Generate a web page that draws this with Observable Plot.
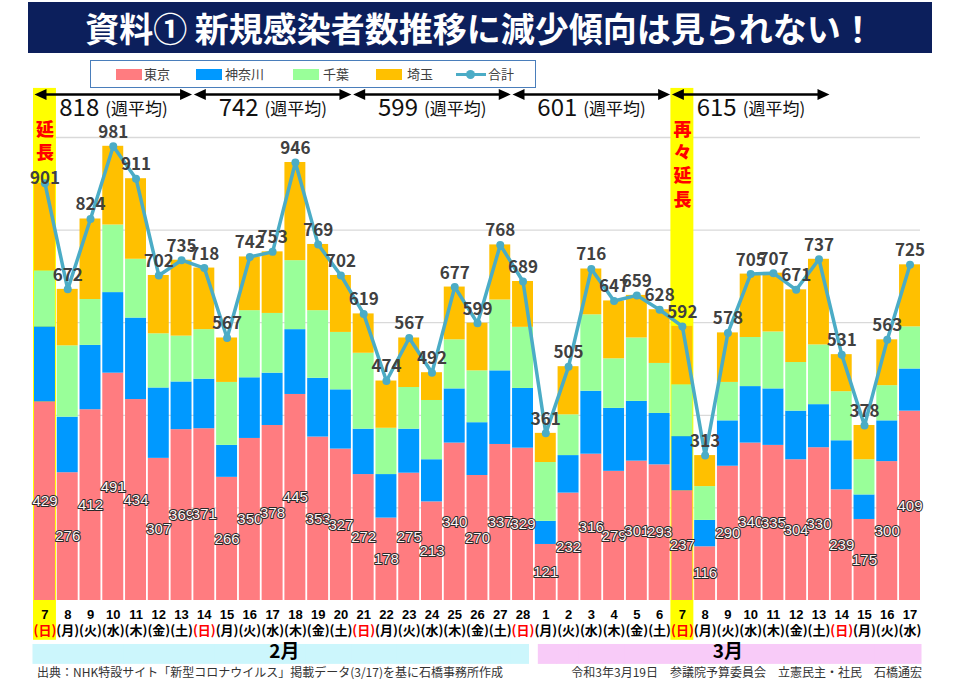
<!DOCTYPE html>
<html><head><meta charset="utf-8">
<script src="https://cdn.jsdelivr.net/npm/d3@7"></script>
<script src="https://cdn.jsdelivr.net/npm/@observablehq/plot@0.6"></script>
<style>
body{margin:0;background:#fff;font-family:"Noto Sans CJK JP","Noto Sans",sans-serif;}
#page{position:relative;width:960px;height:679px;overflow:hidden;background:#fff;}
#title{height:56px;position:relative;}
#title .bar{position:absolute;left:28px;top:2px;width:904px;height:51px;background:#0c1f5c;color:#fff;font-size:34px;font-weight:700;text-align:center;line-height:51px;white-space:nowrap;}
#chart svg{display:block}
#footer{position:relative;height:15px;font-size:12px;color:#333;line-height:15px;white-space:nowrap;}
#footer .l{position:absolute;left:37px;top:0;}
#footer .r{position:absolute;right:38px;top:0;}
#legend{position:absolute;left:90px;top:60px;width:444px;height:26px;border:1.5px solid #4a7ebb;background:#fff;font-size:13px;color:#404040;}
#legend .sw{position:absolute;top:8px;width:26px;height:11px;}
#legend .tx{position:absolute;top:3px;line-height:20px;}
#legend .ln{position:absolute;top:12px;width:30px;height:3px;background:#4bacc6;}
#legend .dt{position:absolute;top:9px;width:9px;height:9px;border-radius:50%;background:#4bacc6;}
</style></head>
<body>
<div id="page">
  <div id="title"><div class="bar">資料① 新規感染者数推移に減少傾向は見られない！</div></div>
  <div id="chart"></div>
  <div id="footer"><span class="l">出典：NHK特設サイト「新型コロナウイルス」掲載データ(3/17)を基に石橋事務所作成</span><span class="r">令和3年3月19日　参議院予算委員会　立憲民主・社民　石橋通宏</span></div>
  <div id="legend"></div>
</div>
<script>
// ---- data ----
const days = [7,8,9,10,11,12,13,14,15,16,17,18,19,20,21,22,23,24,25,26,27,28,
              1,2,3,4,5,6,7,8,9,10,11,12,13,14,15,16,17];
const months = ["2月","3月"];
const monthOfDay = [0,0,0,0,0,0,0,0,0,0,0,0,0,0,0,0,0,0,0,0,0,0,
                    1,1,1,1,1,1,1,1,1,1,1,1,1,1,1,1,1];
const weekdays = ["日","月","火","水","木","金","土","日","月","火","水","木","金","土",
                  "日","月","火","水","木","金","土","日","月","火","水","木","金","土",
                  "日","月","火","水","木","金","土","日","月","火","水"];
const prefs = ["東京","神奈川","千葉","埼玉"];
const prefColors = ["#ff7c80","#0099ff","#99ff99","#ffc000"];
const tokyo    = [429,276,412,491,434,307,369,371,266,350,378,445,353,327,272,178,275,213,340,270,337,329,
                  121,232,316,279,301,293,237,116,290,340,335,304,330,239,175,300,409];
const kanagawa = [162,120,139,174,176,152,103,107,69,131,113,140,127,128,98,94,95,91,117,114,159,129,
                  50,81,136,136,129,111,117,57,98,122,122,105,93,106,53,88,91];
const chiba    = [121,154,99,146,127,117,99,107,136,145,129,149,146,124,164,100,90,128,106,112,153,132,
                  127,88,165,107,137,108,112,73,83,106,123,105,129,106,76,76,91];
const saitama  = [189,122,174,170,174,126,164,133,96,116,133,212,143,123,85,102,107,60,114,103,119,99,
                  63,104,99,125,92,116,126,67,107,137,127,157,185,80,74,99,134];
const totals   = [901,672,824,981,911,702,735,718,567,742,753,946,769,702,619,474,567,492,677,599,768,689,
                  361,505,716,647,659,628,592,313,578,705,707,671,737,531,378,563,725];
const weekAvgs = [818,742,599,601,615];
const weekStarts = [0,7,14,21,28];
const highlightIdx = [0,28];
const highlightTexts = ["延\n長","再\n々\n延\n長"];
const gridValues = [200,400,600,800,1000];

// ---- tables ----
const keys = days.map((d,i) => (monthOfDay[i] + 2) + "/" + d);
const rows = keys.map((k,i) => ({day:k, num:String(days[i]), wd:"(" + weekdays[i] + ")", tokyo:tokyo[i], total:totals[i], month:monthOfDay[i]}));
const series = [tokyo, kanagawa, chiba, saitama];
const stack = keys.flatMap((k,i) => prefs.map((p,j) => ({day:k, pref:p, value:series[j][i]})));
const weeks = weekAvgs.map((a,w) => ({start:keys[weekStarts[w]], mid:keys[weekStarts[w]+3], end:keys[weekStarts[w]+6], avg:String(a)}));
const highlights = highlightIdx.map((i,n) => ({day:keys[i], t:highlightTexts[n]}));
const febKeys = keys.filter((k,i) => monthOfDay[i] === 0);
const marKeys = keys.filter((k,i) => monthOfDay[i] === 1);

const triRight = {draw(ctx){ ctx.moveTo(0,0); ctx.lineTo(-12,-5.5); ctx.lineTo(-12,5.5); ctx.closePath(); }};
const triLeft  = {draw(ctx){ ctx.moveTo(0,0); ctx.lineTo(12,-5.5); ctx.lineTo(12,5.5); ctx.closePath(); }};

const JP = '"Noto Sans CJK JP","Noto Sans",sans-serif';
const ARIAL = '"Liberation Sans",Arial,sans-serif';

const chart = Plot.plot({
  width: 960, height: 608,
  marginTop: 81, marginBottom: 64, marginLeft: 34, marginRight: 40,
  x: {domain: keys, axis: null, paddingInner: 0.08, paddingOuter: 0, round: false},
  y: {domain: [0, 1000], axis: null},
  color: {domain: prefs, range: prefColors},
  style: {fontFamily: JP, background: "white", overflow: "visible"},
  marks: [
    Plot.ruleY(gridValues, {stroke: "#d9d9d9", strokeWidth: 1.3}),
    Plot.barY(highlights, {x: "day", y1: -86, y2: 1106, fill: "#ffff00", insetLeft: -1, insetRight: -1}),
    // month bands
    Plot.barY(febKeys.slice(0,-1), {x: d => d, y1: -95, y2: -138, fill: "#ccf6fc", insetLeft: -1.5, insetRight: -1.5}),
    Plot.barY(febKeys.slice(-1), {x: d => d, y1: -95, y2: -138, fill: "#ccf6fc", insetLeft: -1.5, insetRight: 4}),
    Plot.barY(marKeys.slice(0,1), {x: d => d, y1: -95, y2: -138, fill: "#f8cbf8", insetLeft: 3, insetRight: -1.5}),
    Plot.barY(marKeys.slice(1), {x: d => d, y1: -95, y2: -138, fill: "#f8cbf8", insetLeft: -1.5, insetRight: -1.5}),
    // stacked bars
    Plot.barY(stack, {x: "day", y: "value", fill: "pref"}),
    // total line
    Plot.line(rows, {x: "day", y: "total", stroke: "#4bacc6", strokeWidth: 3.5}),
    Plot.dot(rows, {x: "day", y: "total", r: 4, fill: "#4bacc6"}),
    // labels
    Plot.text(rows, {x: "day", y: d => d.tokyo / 2, text: d => String(d.tokyo), fontFamily: ARIAL, fontSize: 15, fill: "#fff4f4", stroke: "#2a2a2a", strokeWidth: 2}),
    Plot.text(rows.slice(1), {x: "day", y: "total", text: d => String(d.total), dy: -14, fontSize: 17, fontWeight: "bold", fill: "#404040"}),
    Plot.text(rows.slice(0,1), {x: "day", y: "total", text: d => String(d.total), dy: -5, fontSize: 17, fontWeight: "bold", fill: "#404040"}),
    // highlight captions
    Plot.text(highlights, {x: "day", y: 1040, text: "t", lineAnchor: "top", lineHeight: 1.3, fill: "#ff0000", fontSize: 18, fontWeight: 900}),
    // weekly arrows
    Plot.link(weeks, {x1: "start", x2: "end", y1: 1093, y2: 1093, stroke: "#000", strokeWidth: 2.5}),
    Plot.dot(weeks, {x: "end", y: 1093, symbol: triRight, fill: "#000", dx: 10.5}),
    Plot.dot(weeks, {x: "start", y: 1093, symbol: triLeft, fill: "#000", dx: -10.5}),
    Plot.text(weeks, {x: "mid", y: 1063, text: "avg", textAnchor: "end", dx: -14, fontSize: 24, fill: "#111"}),
    Plot.text(weeks, {x: "mid", y: 1061, text: () => "(週平均)", textAnchor: "start", dx: -8, fontSize: 17, fill: "#111"}),
    // x labels
    Plot.text(rows, {x: "day", text: "num", frameAnchor: "bottom", dy: 18, fontFamily: ARIAL, fontWeight: "bold", fontSize: 13, fill: "#000"}),
    Plot.text(rows, {x: "day", text: "wd", frameAnchor: "bottom", dy: 34, fontWeight: "bold", fontSize: 13, fill: d => d.wd === "(日)" ? "#ff0000" : "#000"}),
    Plot.text([keys[11]], {x: d => d, text: () => months[0], frameAnchor: "bottom", dy: 57, dx: -11, fontWeight: "bold", fontSize: 19, fill: "#000"}),
    Plot.text([keys[30]], {x: d => d, text: () => months[1], frameAnchor: "bottom", dy: 57, fontWeight: "bold", fontSize: 19, fill: "#000"})
  ]
});
document.getElementById("chart").appendChild(chart);

// legend
const lg = document.getElementById("legend");
const swLeft = [25, 105, 202, 285];
const txLeft = [53, 134, 232, 316];
prefs.forEach((p,j) => {
  const s = document.createElement("div"); s.className = "sw"; s.style.left = swLeft[j] + "px"; s.style.background = prefColors[j]; lg.appendChild(s);
  const t = document.createElement("div"); t.className = "tx"; t.style.left = txLeft[j] + "px"; t.textContent = p; lg.appendChild(t);
});
const ln = document.createElement("div"); ln.className = "ln"; ln.style.left = "365px"; lg.appendChild(ln);
const dt = document.createElement("div"); dt.className = "dt"; dt.style.left = "375px"; lg.appendChild(dt);
const tt = document.createElement("div"); tt.className = "tx"; tt.style.left = "397px"; tt.textContent = "合計"; lg.appendChild(tt);
</script>
</body></html>
